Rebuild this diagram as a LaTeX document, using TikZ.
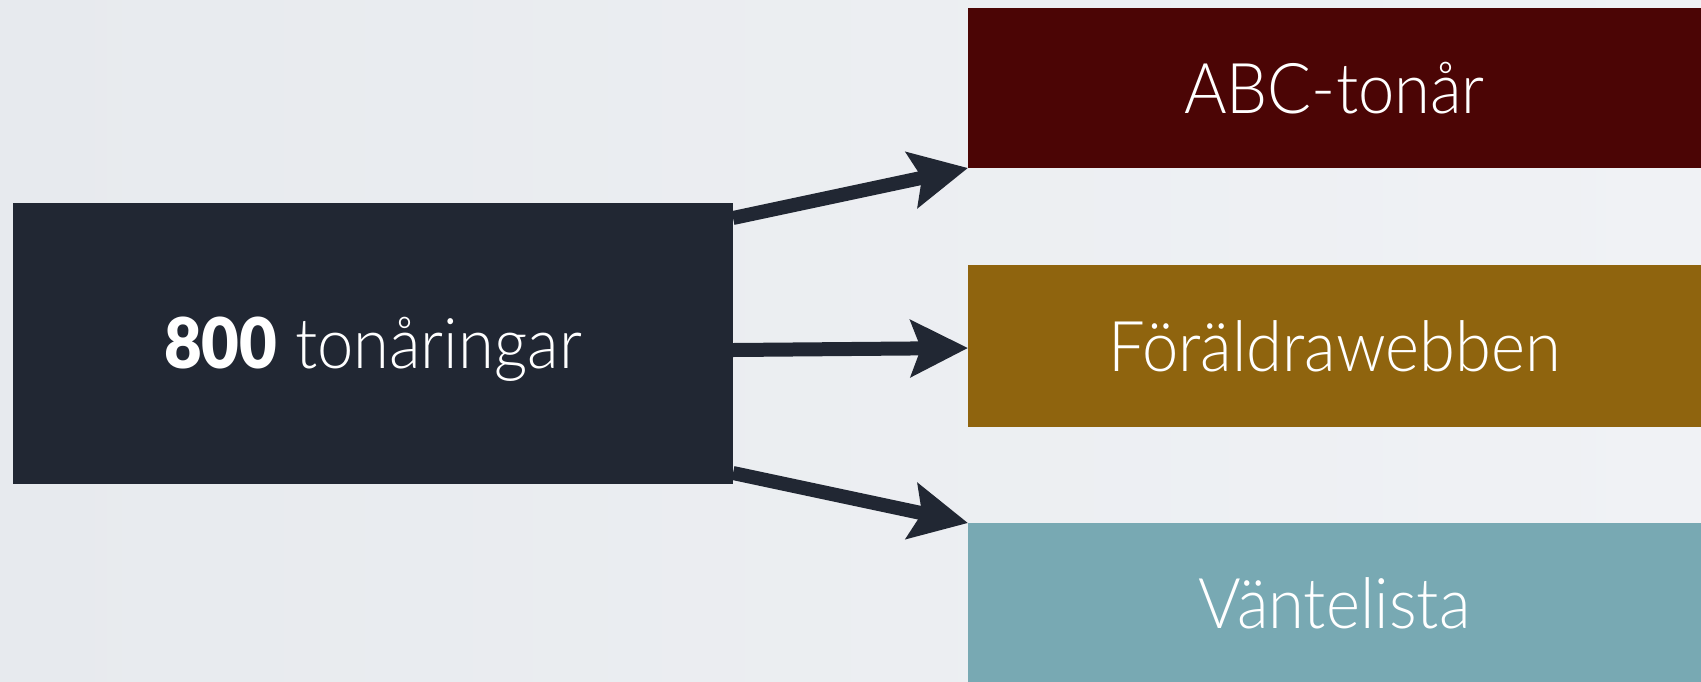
\documentclass[tikz,border=0pt]{standalone}
\usepackage{fontspec}
\setmainfont{Lato}[UprightFont={* Light}, BoldFont={* Black}, FakeStretch=0.93]
\usetikzlibrary{arrows.meta,calc}
\definecolor{bgA}{HTML}{E7EAEE}
\definecolor{bgB}{HTML}{F0F2F5}
\definecolor{navy}{HTML}{212733}
\definecolor{maroon}{HTML}{4B0505}
\definecolor{ochre}{HTML}{8F640E}
\definecolor{teal}{HTML}{78A9B3}
\begin{document}
\begin{tikzpicture}[x=0.5pt,y=-0.5pt,
  box/.style={rectangle, inner sep=0pt, outer sep=0pt, text=white,
    font=\fontsize{35pt}{42pt}\selectfont, text height=25pt, text depth=0pt, align=center},
  arr/.style={draw=navy, line width=7pt,
    -{Stealth[length=28.5pt, width=28pt, inset=5pt]}}]
\useasboundingbox (0,0) rectangle (1701,681);
\clip (0,0) rectangle (1701,681);
\shade[left color=bgA, right color=bgB] (0,0) rectangle (1701,681);
\node[box, fill=navy, minimum width=360pt, minimum height=140.5pt] (L) at (373,343.5) {\textbf{800} tonåringar};
\node[box, fill=maroon, minimum width=366.5pt, minimum height=80pt] (A) at (1334.5,88) {ABC-tonår};
\node[box, fill=ochre, minimum width=366.5pt, minimum height=81pt] (M) at (1334.5,346) {Föräldrawebben};
\node[box, fill=teal, minimum width=366.5pt, minimum height=80pt] (V) at (1334.5,603) {Väntelista};
\draw[arr] ($(L.north east)+(0,15)$) -- (A.south west);
\draw[arr] ($(L.east)+(0,6.5)$) -- ($(M.west)+(0,2)$);
\draw[arr] ($(L.south east)+(0,-11)$) -- (V.north west);
\end{tikzpicture}
\end{document}
